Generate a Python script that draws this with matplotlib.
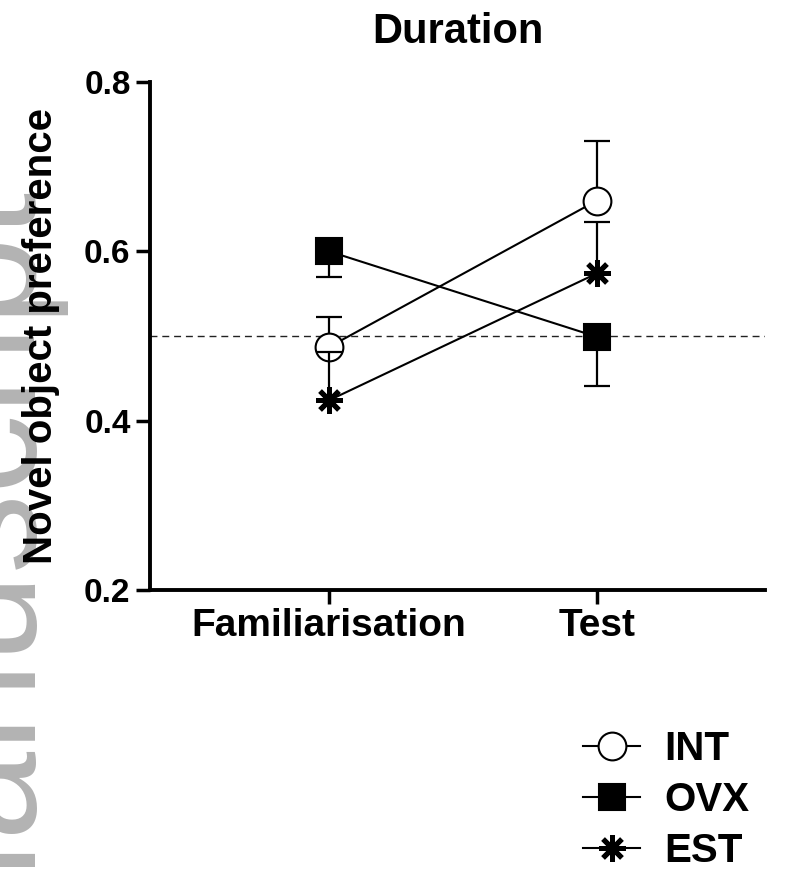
import numpy as np
import matplotlib
matplotlib.use("Agg")
import matplotlib.pyplot as plt
from matplotlib.lines import Line2D

plt.rcParams['font.family'] = ['Liberation Sans', 'DejaVu Sans']
plt.rcParams['font.weight'] = 'bold'

# --- data ---
categories = ['Familiarisation', 'Test']
groups = ['INT', 'OVX', 'EST']
int_mean = [0.487, 0.660]
int_err_up = [0.036, 0.070]
ovx_mean = [0.600, 0.499]
ovx_err_down = [0.030, 0.058]
est_mean = [0.424, 0.574]
est_err_up = [0.057, 0.061]
chance_level = 0.5

x = np.arange(len(categories))

fig = plt.figure(figsize=(7.85, 8.88), dpi=100)
W, H = 785, 888
ax = fig.add_axes([150 / W, (H - 590) / H, (765 - 150) / W, (590 - 82) / H])
ax.set_facecolor('none')

# watermark along the left margin (mostly cut off by the edge)
fig.text(36 / W, 1 - 192 / H, 'Author Manuscript', rotation=90, rotation_mode='anchor',
         ha='right', va='baseline', fontsize=115, fontweight='normal',
         color='#b3b3b3', zorder=-1)

ax.axhline(chance_level, color='#222222', lw=1.0, ls=(0, (5, 3.5)), zorder=1)

styles = {
    'INT': dict(marker='o', ms=20, mfc='white', mec='black', mew=1.5),
    'OVX': dict(marker='s', ms=18.5, mfc='black', mec='black', mew=1.5),
    'EST': dict(marker=(8, 2, 0), ms=19, mfc='black', mec='black', mew=3.6),
}


def draw_bars(xs, base, tips, z):
    ax.vlines(xs, base, tips, color='black', lw=1.6, zorder=z)
    ax.plot(xs, tips, ls='none', marker='_', ms=19, mew=1.6, color='black', zorder=z)


series = [
    ('INT', int_mean, np.array(int_mean) + np.array(int_err_up)),
    ('OVX', ovx_mean, np.array(ovx_mean) - np.array(ovx_err_down)),
    ('EST', est_mean, np.array(est_mean) + np.array(est_err_up)),
]

for i, (name, mean, tips) in enumerate(series):
    z = 3 + i
    draw_bars(x, mean, tips, z)
    ax.plot(x, mean, color='black', lw=1.5, zorder=z + 0.5, **styles[name])

ax.set_xlim(-0.668, 1.627)
ax.set_ylim(0.2, 0.8)
ax.set_xticks(x)
ax.set_xticklabels(categories, fontsize=28, fontweight='bold')
ax.set_yticks([0.2, 0.4, 0.6, 0.8])
ax.set_yticklabels(['0.2', '0.4', '0.6', '0.8'], fontsize=24, fontweight='bold')
ax.tick_params(axis='both', direction='out', length=10, width=2.5, color='black')
ax.tick_params(axis='y', pad=4)
ax.tick_params(axis='x', pad=3)

for side in ['top', 'right']:
    ax.spines[side].set_visible(False)
for side in ['left', 'bottom']:
    ax.spines[side].set_linewidth(2.8)

ax.set_ylabel('Novel object preference', fontsize=29, fontweight='bold')
ax.yaxis.set_label_coords((60 - 150) / 615, 0.5)
ax.set_title('Duration', fontsize=30, fontweight='bold', pad=28)

handles = [Line2D([], [], color='black', lw=1.5, **styles[g]) for g in groups]
fig.legend(handles, groups, loc='center left', bbox_to_anchor=(583 / W, 1 - 800 / H),
           frameon=False, prop=dict(weight='bold', size=29),
           handlelength=1.42, handletextpad=0.6, labelspacing=0.33,
           borderpad=0, borderaxespad=0)

fig.savefig('out.png', dpi=100)
